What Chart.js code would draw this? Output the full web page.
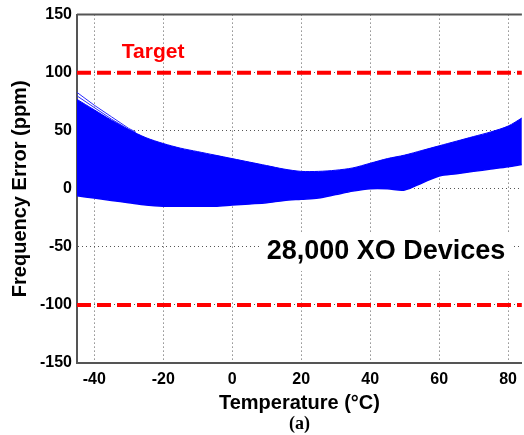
<!DOCTYPE html>
<html>
<head>
<meta charset="utf-8">
<script src="https://cdn.jsdelivr.net/npm/chart.js@4/dist/chart.umd.min.js"></script>
<style>
    html, body { margin: 0; padding: 0; background: #fff; }
</style>
</head>
<body>
<canvas id="chart" width="524" height="435"></canvas>
<script>
// Envelope of the 28,000 device curves (ppm vs temperature)
const temps = [-45, -40, -35, -30, -25, -20, -15, -10, -5, 0, 5, 10, 15, 20, 25, 30, 35, 40, 45, 50, 55, 60, 65, 70, 75, 80, 84];
const upperPpm = [77, 68, 59, 51, 44, 39, 35, 32, 29, 26, 23, 20, 17, 15, 15, 16, 18, 22, 26, 29, 33, 37, 41, 45, 49, 54, 61];
const lowerPpm = [-6, -8, -10, -12, -14, -15, -15, -15, -15, -14, -13, -12, -10, -9, -8, -5, -2, 0, 0, -1, 5, 11, 13, 15, 17, 19, 21];
// a few stray traces above the band at the cold end
const strayTemps = [-45, -40, -35, -30, -28];
const strayPpm = [83, 72, 62, 52, 49];
const strayPpm2 = [80, 70, 60, 51, 48];
// target limits
const limitTemps = [-45, 84];
const targetHigh = [100, 100];
const targetLow = [-100, -100];

const xTicks = [-40, -20, 0, 20, 40, 60, 80];
const yTicks = [-150, -100, -50, 0, 50, 100, 150];

const notes = [
    { text: 'Target', x: -32, y: 118, color: '#ff0000', size: 21, align: 'left', box: false },
    { text: '28,000 XO Devices', x: 44.6, y: -54, color: '#000', size: 27, align: 'center', box: true }
];

const toPoints = (xs, ys) => xs.map((x, i) => ({ x: x, y: ys[i] }));
const FONT = "'Liberation Sans', Arial, sans-serif";
const BLUE = '#0000ff';

// draws the top frame line and the text notes
const frameAndNotes = {
    id: 'frameAndNotes',
    afterDatasetsDraw(chart) {
        const { ctx, chartArea, scales } = chart;
        ctx.save();
        ctx.strokeStyle = '#555';
        ctx.lineWidth = 2;
        ctx.beginPath();
        ctx.moveTo(chartArea.left, chartArea.top);
        ctx.lineTo(chartArea.right, chartArea.top);
        ctx.stroke();

        notes.forEach(n => {
            const px = scales.x.getPixelForValue(n.x);
            const py = scales.y.getPixelForValue(n.y);
            ctx.font = 'bold ' + n.size + 'px ' + FONT;
            ctx.textAlign = n.align;
            ctx.textBaseline = 'middle';
            if (n.box) {
                const w = ctx.measureText(n.text).width;
                ctx.fillStyle = '#fff';
                ctx.fillRect(px - w / 2 - 6, py - n.size * 0.72, w + 12, n.size * 1.44);
            }
            ctx.fillStyle = n.color;
            ctx.fillText(n.text, px, py);
        });
        ctx.restore();
    }
};

const ctx = document.getElementById('chart').getContext('2d');
new Chart(ctx, {
    type: 'line',
    data: {
        datasets: [
            {
                label: 'upper',
                data: toPoints(temps, upperPpm),
                borderColor: BLUE,
                backgroundColor: BLUE,
                borderWidth: 1,
                pointRadius: 0,
                tension: 0.3,
                fill: '+1'
            },
            {
                label: 'lower',
                data: toPoints(temps, lowerPpm),
                borderColor: BLUE,
                borderWidth: 1.5,
                pointRadius: 0,
                tension: 0.3,
                fill: false
            },
            {
                label: 'stray',
                data: toPoints(strayTemps, strayPpm),
                borderColor: '#2a2aff',
                borderWidth: 1,
                pointRadius: 0,
                fill: false
            },
            {
                label: 'stray2',
                data: toPoints(strayTemps, strayPpm2),
                borderColor: '#2a2aff',
                borderWidth: 1,
                pointRadius: 0,
                fill: false
            },
            {
                label: 'target high',
                data: toPoints(limitTemps, targetHigh),
                borderColor: '#ff0000',
                borderWidth: 4,
                borderDash: [14, 6],
                pointRadius: 0,
                fill: false
            },
            {
                label: 'target low',
                data: toPoints(limitTemps, targetLow),
                borderColor: '#ff0000',
                borderWidth: 4,
                borderDash: [14, 6],
                pointRadius: 0,
                fill: false
            }
        ]
    },
    options: {
        responsive: false,
        animation: false,
        devicePixelRatio: 1,
        layout: { padding: { top: 2 } },
        scales: {
            x: {
                type: 'linear',
                min: -45,
                max: 84,
                afterBuildTicks: s => { s.ticks = xTicks.map(v => ({ value: v })); },
                afterFit: s => { s.height = 52; },
                grid: { color: '#555', lineWidth: 1, drawTicks: false },
                border: { color: '#555', width: 2, dash: [1, 3] },
                ticks: { color: '#000', padding: 7, font: { family: FONT, size: 16, weight: 'bold' } },
                title: {
                    display: true,
                    text: 'Temperature (°C)',
                    color: '#000',
                    padding: 0,
                    font: { family: FONT, size: 20, weight: 'bold' }
                }
            },
            y: {
                min: -150,
                max: 150,
                afterBuildTicks: s => { s.ticks = yTicks.map(v => ({ value: v })); },
                afterFit: s => { s.width = 77; },
                grid: { color: '#555', lineWidth: 1, drawTicks: false },
                border: { color: '#555', width: 2, dash: [1, 3] },
                ticks: { color: '#000', padding: 5, font: { family: FONT, size: 16, weight: 'bold' } },
                title: {
                    display: true,
                    text: 'Frequency Error (ppm)',
                    color: '#000',
                    padding: { top: 8, bottom: 0 },
                    font: { family: FONT, size: 20, weight: 'bold' }
                }
            }
        },
        plugins: {
            legend: { display: false },
            tooltip: { enabled: false },
            title: {
                display: true,
                text: '(a)',
                position: 'bottom',
                fullSize: false,
                color: '#000',
                padding: { top: 0, bottom: 2 },
                font: { family: "'Liberation Serif', 'Times New Roman', serif", size: 18, weight: 'bold', lineHeight: 1 }
            }
        }
    },
    plugins: [frameAndNotes]
});
</script>
</body>
</html>
